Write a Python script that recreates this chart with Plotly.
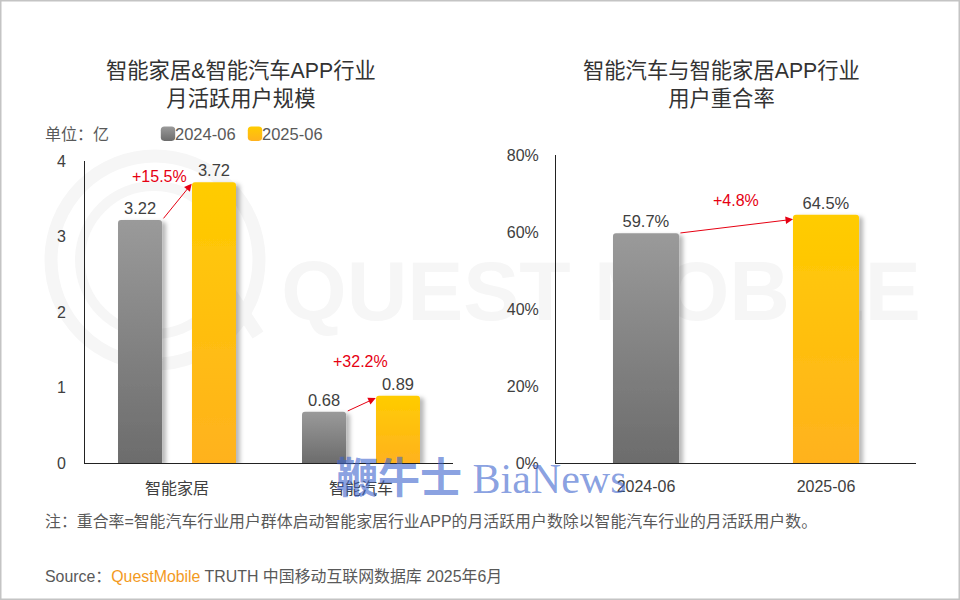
import plotly.graph_objects as go

left_categories = ["智能家居", "智能汽车"]
left_2024 = [3.22, 0.68]
left_2025 = [3.72, 0.89]
left_growth = ["+15.5%", "+32.2%"]
right_categories = ["2024-06", "2025-06"]
right_values = [59.7, 64.5]
right_growth = "+4.8%"
series_names = ["2024-06", "2025-06"]
left_ticks = [0, 1, 2, 3, 4]
right_ticks = [0, 20, 40, 60, 80]
right_tick_labels = ["0%", "20%", "40%", "60%", "80%"]

W, H = 960, 600
FONT = "Liberation Sans, Noto Sans CJK SC, sans-serif"
TEXT = "#404040"
RED = "#e60012"
def px(x): return x / W
def py(y): return 1 - y / H

fig = go.Figure()
fig.add_bar(x=left_categories, y=left_2024, name=series_names[0], xaxis="x", yaxis="y",
            marker_color="#8a8a8a", text=[f"{v:.2f}" for v in left_2024])
fig.add_bar(x=left_categories, y=left_2025, name=series_names[1], xaxis="x", yaxis="y",
            marker_color="#ffc107", text=[f"{v:.2f}" for v in left_2025])
fig.add_bar(x=right_categories, y=right_values, xaxis="x2", yaxis="y2", showlegend=False,
            marker_color=["#8a8a8a", "#ffc107"], text=[f"{v:.1f}%" for v in right_values],
            width=0.367)
fig.update_traces(textposition="outside", cliponaxis=False, marker_line_width=0,
                  textfont=dict(size=16.5, color=TEXT, family=FONT))

axis_line = dict(showline=True, linecolor="#222222", linewidth=1, showgrid=False, zeroline=False)
tick = dict(ticks="outside", tickcolor="rgba(0,0,0,0)", tickfont=dict(size=16, color=TEXT, family=FONT))
fig.update_layout(
    width=W, height=H, autosize=False, paper_bgcolor="white", plot_bgcolor="rgba(0,0,0,0)",
    margin=dict(l=0, r=0, t=0, b=0, autoexpand=False), barmode="group", bargap=0.196, bargroupgap=0.405,
    barcornerradius=3, font=dict(family=FONT, color=TEXT),
    legend=dict(orientation="h", x=px(135), xanchor="left", y=py(134), yanchor="middle",
                entrywidth=42, entrywidthmode="pixels", bgcolor="rgba(0,0,0,0)",
                font=dict(size=16.5, color="#595959", family=FONT), traceorder="normal"),
    xaxis=dict(domain=[px(85), px(453)], anchor="y", type="category", ticklen=11, range=[-0.5, 1.5], **axis_line, **tick),
    yaxis=dict(domain=[py(463), py(161)], anchor="x", range=[0, 4], tickvals=left_ticks, ticklen=15, **axis_line, **tick),
    xaxis2=dict(domain=[px(556), px(916)], anchor="y2", type="category", ticklen=9, range=[-0.5, 1.5], **axis_line, **tick),
    yaxis2=dict(domain=[py(463), py(155)], anchor="x2", range=[0, 80], tickvals=right_ticks, ticktext=right_tick_labels,
                ticklen=13, **axis_line, **tick),
)

def note(x, y, text, size=16, color=TEXT, align="center", anchor="center"):
    fig.add_annotation(xref="paper", yref="paper", x=px(x), y=py(y), text=text, showarrow=False,
                       font=dict(size=size, color=color, family=FONT), align=align,
                       xanchor=anchor, yanchor="middle")

note(241, 85, "智能家居&智能汽车APP行业<br>月活跃用户规模", size=21.3, color="#333333")
note(721, 85, "智能汽车与智能家居APP行业<br>用户重合率", size=21.3, color="#333333")
note(43, 134, "单位：亿", anchor="left", color="#595959")
note(43, 521, "注：重合率=智能汽车行业用户群体启动智能家居行业APP的月活跃用户数除以智能汽车行业的月活跃用户数。",
     size=15.9, anchor="left", color="#595959")
note(43, 576, 'Source：<span style="color:#f39a1e">QuestMobile</span> TRUTH 中国移动互联网数据库 2025年6月',
     size=15.9, anchor="left", color="#595959")
note(159, 177, left_growth[0], color=RED)
note(360, 361, left_growth[1], color=RED)
note(736, 201, right_growth, color=RED)
fig.add_annotation(xref="paper", yref="paper", x=px(481), y=py(479), text="<b>鞭牛士</b> BiaNews", showarrow=False,
                   yanchor="middle", xanchor="center",
                   font=dict(size=42, color="rgba(60,100,205,0.62)", family="Liberation Serif, Noto Sans CJK SC"))

def arrow(ax, ay, x, y, xref, yref):
    fig.add_annotation(xref=xref, yref=yref, axref=xref, ayref=yref, x=x, y=y, ax=ax, ay=ay, text="",
                       showarrow=True, arrowhead=2, arrowsize=1.5, arrowwidth=1, arrowcolor=RED,
                       standoff=0, startstandoff=0)

arrow(-0.08, left_2024[0], 0.08, left_2025[0] - 0.02, "x", "y")
arrow(0.92, left_2024[1], 1.08, left_2025[1] - 0.03, "x", "y")
arrow(0.183, right_values[0], 0.817, right_values[1] - 1.2, "x2", "y2")

# Faint watermark, kept underneath the bars
WM = "#f6f6f6"
fig.add_shape(type="rect", xref="paper", yref="paper", x0=px(280), x1=px(922), y0=py(325), y1=py(240),
              line_width=0, fillcolor="rgba(0,0,0,0)", layer="below",
              label=dict(text="<b>QUEST MOBILE</b>", textposition="middle center",
                         font=dict(size=84, color=WM, family="Liberation Sans")))
fig.add_shape(type="circle", xref="paper", yref="paper", x0=px(51), x1=px(259), y0=py(364), y1=py(156),
              line=dict(color=WM, width=13), fillcolor="rgba(0,0,0,0)", layer="below")
fig.add_shape(type="circle", xref="paper", yref="paper", x0=px(80), x1=px(228), y0=py(334), y1=py(186),
              line=dict(color=WM, width=10), fillcolor="rgba(0,0,0,0)", layer="below")
fig.add_shape(type="line", xref="paper", yref="paper", x0=px(215), x1=px(258), y0=py(270), y1=py(335),
              line=dict(color=WM, width=13), layer="below")
fig.add_shape(type="rect", xref="paper", yref="paper", x0=0, x1=1, y0=0, y1=1,
              line=dict(color="#c4c4c4", width=3), fillcolor="rgba(0,0,0,0)", layer="below")

post = """
document.body.style.margin = '0';
var gd = document.getElementById('{plot_id}');
var NS = 'http://www.w3.org/2000/svg';
var svg = gd.querySelector('svg.main-svg');
var defs = svg.querySelector('defs');
function grad(id, a, b) {
  var g = document.createElementNS(NS, 'linearGradient');
  g.setAttribute('id', id); g.setAttribute('x1', 0); g.setAttribute('y1', 0);
  g.setAttribute('x2', 0); g.setAttribute('y2', 1);
  [[0, a], [1, b]].forEach(function (s) {
    var st = document.createElementNS(NS, 'stop');
    st.setAttribute('offset', s[0]); st.setAttribute('stop-color', s[1]);
    g.appendChild(st);
  });
  defs.appendChild(g);
}
grad('gGray', '#9a9a9a', '#6c6c6c');
grad('gGold', '#ffcc00', '#ffb21e');
var f = document.createElementNS(NS, 'filter');
f.setAttribute('id', 'barShadow');
f.setAttribute('x', '-20%'); f.setAttribute('y', '-5%');
f.setAttribute('width', '150%'); f.setAttribute('height', '115%');
f.innerHTML = '<feDropShadow dx="4" dy="2" stdDeviation="2" flood-color="#000" flood-opacity="0.28"/>';
defs.appendChild(f);
function paint(el) {
  var fill = el.style.fill || '';
  var gray = fill.indexOf('138') >= 0;
  el.style.fill = 'url(#' + (gray ? 'gGray' : 'gGold') + ')';
}
gd.querySelectorAll('.barlayer .point path').forEach(function (p) {
  paint(p); p.style.filter = 'url(#barShadow)';
});
gd.querySelectorAll('.legend .legendpoints').forEach(function (g) {
  g.querySelectorAll('path').forEach(paint);
  g.setAttribute('transform', 'translate(9,0) scale(1.2)');
});
var box = gd.querySelector('.legend .scrollbox');
if (box) { box.removeAttribute('clip-path'); box.style.clipPath = 'none'; }
"""
fig.write_html("out.html", post_script=post, config={"displayModeBar": False})
